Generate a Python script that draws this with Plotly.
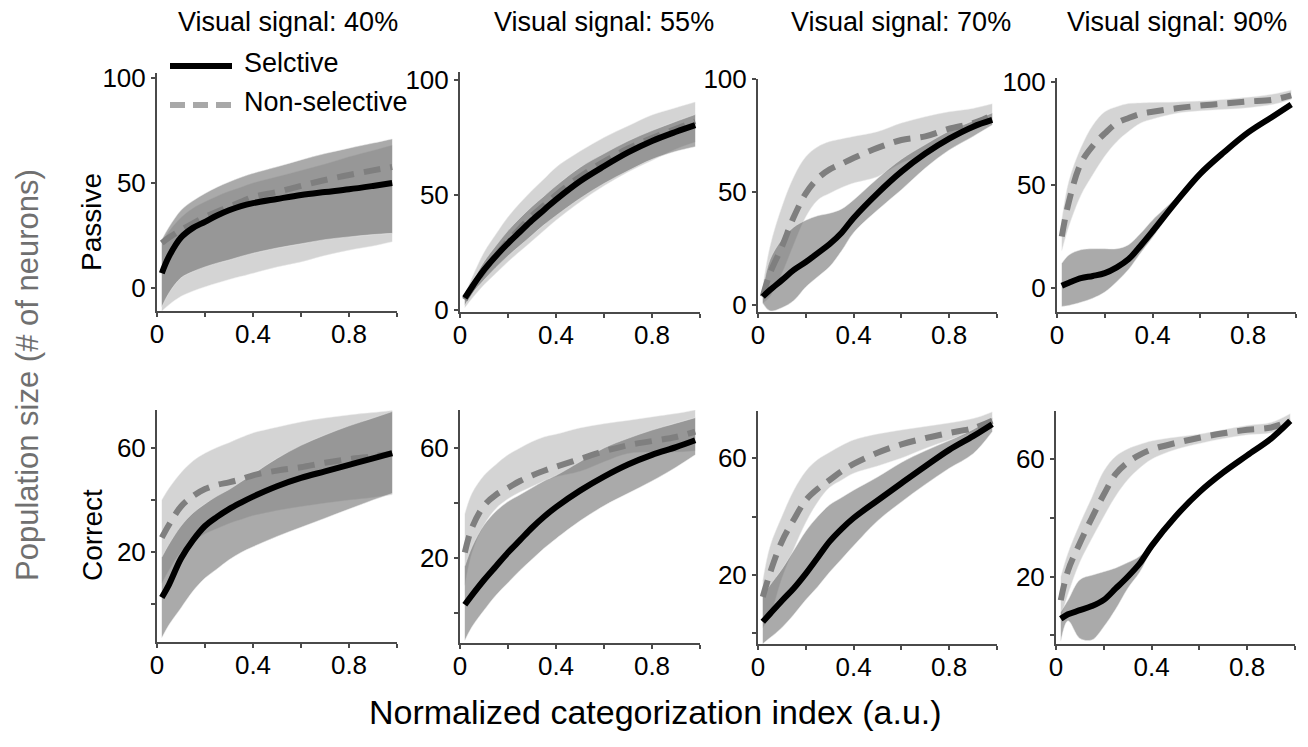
import plotly.graph_objects as go

W, H = 1308, 747

# Normalized categorization index (shared sampling grid)
X = [0.02, 0.05, 0.1, 0.15, 0.2, 0.25, 0.3, 0.35, 0.4, 0.5, 0.6, 0.7, 0.8, 0.9, 0.98]

signals = ["40%", "55%", "70%", "90%"]
rows = ["Passive", "Correct"]

# ---- Passive, visual signal 40% ----
p40_sel = [7, 15, 24, 28.6, 31.5, 34.5, 37, 39, 40.4, 42.4, 44.3, 45.7, 47, 48.6, 50]
p40_non = [21.4, 24, 27.6, 30.8, 33.8, 36.3, 38.6, 41, 43.3, 45.7, 48.6, 51.4, 53.8, 56, 57.6]
p40_sel_lo = [-9, -2.4, 4.8, 7.8, 10, 11.8, 13.3, 15, 16.5, 19, 21, 23, 24.3, 25.4, 26]
p40_sel_hi = [23, 29, 37, 41.5, 45, 48, 50.5, 52.7, 54.6, 57.7, 61, 64, 66.6, 69, 71]
p40_non_lo = [-11, -8, -4, -1.5, 0.5, 2.3, 4, 5.5, 7, 10, 12.4, 15.5, 18, 20, 22]
p40_non_hi = [22, 27, 33.5, 38, 41, 43.7, 46, 48, 50, 53, 56, 59, 62.5, 65.5, 68]

# ---- Passive, visual signal 55% ----
p55_sel = [5.2, 10, 17.4, 23.5, 29, 34, 39, 43.5, 48, 56, 62.5, 68.5, 73.5, 77.5, 80.4]
p55_non = [4.5, 9.5, 17, 23.5, 30, 35.5, 41, 45.5, 50, 58, 64.5, 70.2, 74.8, 78.8, 82]
p55_sel_lo = [2, 7, 13, 18.5, 23.5, 28, 32.5, 37, 41, 48.5, 55, 60.5, 65.5, 69, 71]
p55_sel_hi = [6, 12, 21, 28, 34.5, 40, 45, 49.5, 54, 62, 68, 73.5, 78, 82, 85]
p55_non_lo = [1, 5, 11, 16, 21, 25.5, 30, 34.5, 39, 47, 54, 60, 65, 70, 73]
p55_non_hi = [6.5, 14, 25, 33, 40.4, 46.5, 52, 57, 62, 69, 75, 80, 84.8, 88, 90.4]

# ---- Passive, visual signal 70% ----
p70_sel = [3.7, 6.6, 11, 15.5, 19, 23, 27, 32, 38.5, 49.4, 59, 67, 73.6, 78.9, 81.9]
p70_non = [3.7, 14, 25.8, 39, 49.4, 56, 60, 62.5, 65, 69.5, 73, 74.6, 78, 80.5, 84]
p70_sel_lo = [0.8, -2.6, -1.2, 2, 8, 12.5, 17, 24, 32, 42, 51, 60.6, 68.6, 74.6, 79.6]
p70_sel_hi = [6.6, 20, 29, 34.5, 37.5, 39.5, 40.6, 42.5, 46.5, 56, 64.5, 71, 77, 81.5, 85]
p70_non_lo = [0.8, 3.7, 14, 27, 39, 46.5, 49.4, 52, 54, 56.8, 62.8, 67, 73, 77.4, 81]
p70_non_hi = [8, 25.8, 43.5, 56.8, 65.6, 70, 72.3, 73.5, 74.6, 76.7, 80.5, 83.3, 85.5, 87, 89]

# ---- Passive, visual signal 90% ----
p90_sel = [1, 2.5, 4.7, 5.8, 7.2, 10, 14, 20.5, 27.5, 42, 55.5, 66, 75.5, 83, 89]
p90_non = [25, 42, 60.5, 69, 75, 80, 82.5, 84.5, 85.5, 87.2, 88.5, 89.5, 90.5, 91.3, 93.5]
p90_sel_lo = [-9, -8.5, -7, -5, -2, 3, 9, 17, 24.5, 40.5, 54.5, 65.5, 75, 82.5, 88.5]
p90_sel_hi = [12, 16, 18.5, 19, 19, 19, 21, 26.5, 33, 44, 56.5, 66.5, 76, 83.5, 89.5]
p90_non_lo = [18, 30, 45, 55, 64, 71, 76, 80, 82, 84.8, 86, 86.7, 87.5, 89, 91.5]
p90_non_hi = [33, 52, 68, 79, 85.5, 88, 89.5, 89.8, 90, 90.2, 90.7, 91.5, 92.5, 94, 96]

# ---- Correct, visual signal 40% ----
c40_sel = [2.5, 7.5, 17.5, 24.5, 30, 33.5, 36.5, 39, 41.3, 45.3, 48.5, 51, 53.5, 56, 58]
c40_non = [25.5, 30.5, 37.5, 41.5, 44.2, 45.8, 46.8, 48, 49.5, 51.3, 52.6, 54.3, 55.7, 56.8, 57.8]
c40_sel_lo = [-13, -8, -1.5, 5, 10, 13.5, 17, 19.8, 22, 26, 29.5, 33, 36.5, 40, 42.5]
c40_sel_hi = [18, 23, 30, 35, 38.5, 41.5, 44, 47, 50, 56, 61, 65, 68.5, 71.5, 74]
c40_non_lo = [8, 13, 20, 24, 27, 29, 31, 32.5, 34, 36, 37.5, 38.8, 40, 41, 42]
c40_non_hi = [40, 44.5, 50.5, 55, 58, 60.2, 62, 64, 65.8, 68, 70, 71.5, 72.7, 73.6, 74.4]

# ---- Correct, visual signal 55% ----
c55_sel = [3, 6.5, 12, 17, 22, 26.5, 31, 35, 38.5, 44.5, 49.6, 54, 57.5, 60.3, 62.8]
c55_non = [22, 31, 39, 43, 45.5, 48, 50, 51.7, 53.2, 56, 58.8, 61, 62.5, 64, 65.9]
c55_sel_lo = [-10, -5, 1, 6.5, 11, 15.5, 19.5, 23.5, 27, 33.5, 39, 43.5, 48, 53, 57.5]
c55_sel_hi = [17, 24, 32, 37, 40.5, 43, 45.5, 48, 50, 55, 60, 63.5, 66.5, 69, 71]
c55_non_lo = [10, 22, 32, 38, 41.5, 44, 46, 48, 49.5, 51.5, 55, 58, 58.5, 58.5, 59]
c55_non_hi = [36, 43.5, 50, 54, 57.5, 60, 62.3, 64, 65, 67.3, 68.8, 70, 71.3, 72.5, 73.8]

# ---- Correct, visual signal 70% ----
c70_sel = [4, 6.7, 11.2, 15.5, 20.5, 26, 31.5, 35.8, 39.5, 45.5, 51.4, 57.2, 62.8, 67.5, 71.6]
c70_non = [12.5, 20.6, 31.5, 39, 45.6, 49.5, 52.5, 55.5, 58, 61.8, 64.7, 66.8, 68.6, 70.2, 72.8]
c70_sel_lo = [-3.5, -1.5, 2, 6.5, 11.5, 16, 21, 25.5, 30, 38.5, 45, 51, 56.5, 61.5, 69]
c70_sel_hi = [13, 16.5, 22, 28.5, 35, 40, 44, 46.5, 49, 53.5, 58.5, 62.5, 66, 69.8, 73.8]
c70_non_lo = [2, 6, 19, 29, 38, 45, 50, 52.5, 54.8, 57.3, 60, 63.3, 66.2, 68.8, 71]
c70_non_hi = [18, 29.7, 40, 49, 55.5, 59.5, 62, 64.3, 66.2, 68.2, 69.6, 70.8, 72, 73.5, 75.8]

# ---- Correct, visual signal 90% ----
c90_sel = [5.7, 7.2, 8.6, 10, 12.1, 16, 20, 24.5, 30.5, 40.5, 48.8, 55.5, 61.3, 67, 73]
c90_non = [12, 22, 31.5, 40, 48, 55, 58.9, 61.5, 63.3, 65.5, 67.3, 68.8, 70, 70.8, 73]
c90_sel_lo = [-2, 5, -1, -1.5, 3, 9, 16, 21.5, 29, 39.5, 48, 54.8, 60.5, 66.4, 72.5]
c90_sel_hi = [8, 12, 19, 20.5, 21.7, 23, 24.8, 27, 31.5, 41.5, 49.5, 56.2, 62, 67.6, 73.5]
c90_non_lo = [6, 14, 25, 33, 40.5, 47.5, 53, 57, 60, 63.3, 65.3, 67, 68.3, 69, 71.5]
c90_non_hi = [20, 28, 38, 47, 56, 61, 63.5, 65, 66.2, 67.5, 68.5, 70, 71.5, 72.5, 75.5]

panels = [
    (p40_sel, p40_non, p40_sel_lo, p40_sel_hi, p40_non_lo, p40_non_hi),
    (p55_sel, p55_non, p55_sel_lo, p55_sel_hi, p55_non_lo, p55_non_hi),
    (p70_sel, p70_non, p70_sel_lo, p70_sel_hi, p70_non_lo, p70_non_hi),
    (p90_sel, p90_non, p90_sel_lo, p90_sel_hi, p90_non_lo, p90_non_hi),
    (c40_sel, c40_non, c40_sel_lo, c40_sel_hi, c40_non_lo, c40_non_hi),
    (c55_sel, c55_non, c55_sel_lo, c55_sel_hi, c55_non_lo, c55_non_hi),
    (c70_sel, c70_non, c70_sel_lo, c70_sel_hi, c70_non_lo, c70_non_hi),
    (c90_sel, c90_non, c90_sel_lo, c90_sel_hi, c90_non_lo, c90_non_hi),
]

# Axis placement in pixels: (left, right, top, bottom) and y ranges
boxes = [
    (157, 397, 73, 311), (460, 700, 72, 312), (758, 997, 79, 312), (1057, 1296, 78, 312),
    (157, 397, 410, 642), (460, 700, 410, 643), (758, 997, 411, 644), (1056, 1295, 411, 644),
]
yranges = [
    [-11, 102.4], [-0.9, 103.5], [-3.1, 100], [-11.7, 101.9],
    [-14.6, 74.6], [-10.9, 73.8], [-3.6, 76.1], [-2.9, 76.4],
]

FONT = "Liberation Sans, Arial, sans-serif"
SEL_BAND = "rgba(100,100,100,0.55)"
NON_BAND = "rgba(160,160,160,0.45)"
EDGE = "rgba(235,235,235,0.6)"
AXIS_COLOR = "#4a4a4a"

fig = go.Figure()

for i, (sel, non, sel_lo, sel_hi, non_lo, non_hi) in enumerate(panels):
    suffix = "" if i == 0 else str(i + 1)
    xa, ya = "x" + suffix, "y" + suffix
    common = dict(x=X, xaxis=xa, yaxis=ya, showlegend=False, hoverinfo="skip")
    # Non-selective confidence band
    fig.add_trace(go.Scatter(y=non_lo, mode="lines",
                             line=dict(width=0.8, color=EDGE, shape="spline"), **common))
    fig.add_trace(go.Scatter(y=non_hi, mode="lines", fill="tonexty", fillcolor=NON_BAND,
                             line=dict(width=0.8, color=EDGE, shape="spline"), **common))
    # Selective confidence band
    fig.add_trace(go.Scatter(y=sel_lo, mode="lines",
                             line=dict(width=0.8, color=EDGE, shape="spline"), **common))
    fig.add_trace(go.Scatter(y=sel_hi, mode="lines", fill="tonexty", fillcolor=SEL_BAND,
                             line=dict(width=0.8, color=EDGE, shape="spline"), **common))
    # Mean curves
    fig.add_trace(go.Scatter(y=non, mode="lines", name="Non-selective",
                             line=dict(width=6, color="#7f7f7f", dash="17px,10px", shape="spline"),
                             **common))
    fig.add_trace(go.Scatter(y=sel, mode="lines", name="Selctive",
                             line=dict(width=6, color="black", shape="spline"), **common))

layout_axes = {}
for i, (l, r, t, b) in enumerate(boxes):
    suffix = "" if i == 0 else str(i + 1)
    top_row = i < 4
    layout_axes["xaxis" + suffix] = dict(
        domain=[l / W, r / W], anchor="y" + suffix, range=[0, 1],
        showgrid=False, zeroline=False, showline=True, linecolor=AXIS_COLOR, linewidth=2,
        ticks="outside", ticklen=4, tickwidth=2, tickcolor=AXIS_COLOR,
        tickvals=[0, 0.2, 0.4, 0.6, 0.8, 1.0], ticktext=["0", "", "0.4", "", "0.8", ""],
        tickfont=dict(family=FONT, size=26, color="black"), fixedrange=True,
        ticklabelstandoff=-5,
    )
    if top_row:
        yt = dict(tickvals=[0, 50, 100], ticktext=["0", "50", "100"])
    else:
        yt = dict(tickvals=[0, 20, 40, 60], ticktext=["", "20", "", "60"])
    layout_axes["yaxis" + suffix] = dict(
        domain=[1 - b / H, 1 - t / H], anchor="x" + suffix, range=yranges[i],
        showgrid=False, zeroline=False, showline=True, linecolor=AXIS_COLOR, linewidth=2,
        ticks="outside", ticklen=4, tickwidth=2, tickcolor=AXIS_COLOR,
        tickfont=dict(family=FONT, size=26, color="black"), fixedrange=True, **yt,
    )

annotations = []
title_x = [288, 604, 901, 1177]
for sig, tx in zip(signals, title_x):
    annotations.append(dict(text="Visual signal: " + sig, x=tx / W, y=1 - 22 / H,
                            xref="paper", yref="paper", showarrow=False,
                            xanchor="center", yanchor="middle",
                            font=dict(family=FONT, size=27, color="black")))
for label, cy in zip(rows, [222, 535]):
    annotations.append(dict(text=label, x=92 / W, y=1 - cy / H, xref="paper", yref="paper",
                            showarrow=False, textangle=-90, xanchor="center", yanchor="middle",
                            font=dict(family=FONT, size=28, color="black")))
annotations.append(dict(text="Population size (# of neurons)", x=27 / W, y=1 - 375 / H,
                        xref="paper", yref="paper", showarrow=False, textangle=-90,
                        xanchor="center", yanchor="middle",
                        font=dict(family=FONT, size=31, color="#707070")))
annotations.append(dict(text="Normalized categorization index (a.u.)", x=655 / W, y=1 - 712 / H,
                        xref="paper", yref="paper", showarrow=False,
                        xanchor="center", yanchor="middle",
                        font=dict(family=FONT, size=34, color="black")))

# Legend keys
legend_items = [("Selctive", 66, dict(color="black", width=6)),
                ("Non-selective", 105, dict(color="#a8a8a8", width=6, dash="15px,8px"))]
shapes = []
for text, ly, lstyle in legend_items:
    shapes.append(dict(type="line", xref="paper", yref="paper",
                       x0=170 / W, x1=232 / W, y0=1 - ly / H, y1=1 - ly / H, line=lstyle))
    annotations.append(dict(text=text, x=242 / W, y=1 - (ly - 3) / H, xref="paper", yref="paper",
                            showarrow=False, xanchor="left", yanchor="middle",
                            font=dict(family=FONT, size=27, color="black")))

fig.update_layout(
    width=W, height=H, margin=dict(l=0, r=0, t=0, b=0, autoexpand=False),
    paper_bgcolor="white", plot_bgcolor="white",
    showlegend=False, annotations=annotations, shapes=shapes,
    **layout_axes,
)

fig.write_html("out.html")
